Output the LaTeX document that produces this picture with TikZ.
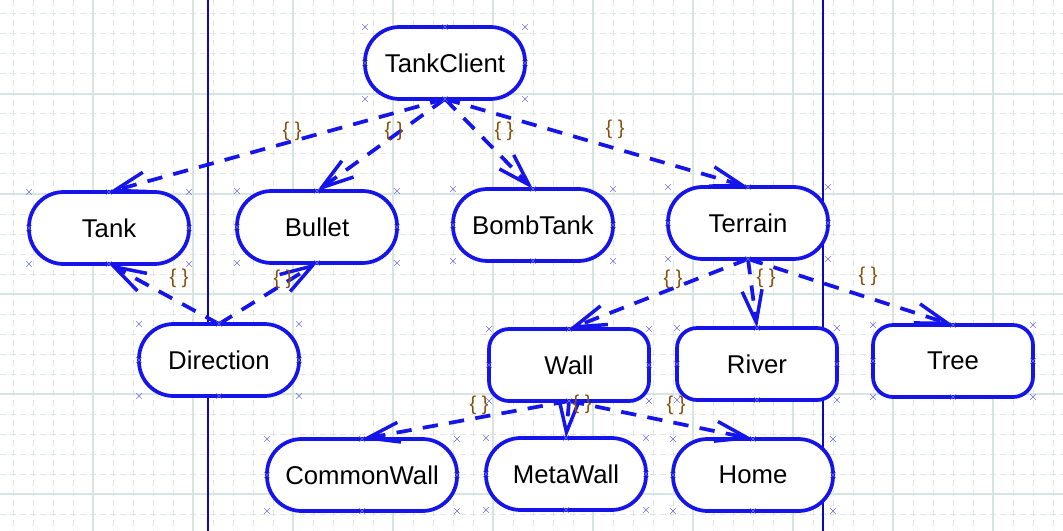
\documentclass[tikz,border=0pt]{standalone}
\usepackage{fontspec}
\setmainfont{Liberation Sans}
\usetikzlibrary{arrows.meta,shapes.misc}
\definecolor{umlblue}{RGB}{20,20,235}
\definecolor{gridminor}{RGB}{224,230,230}
\definecolor{gridmajor}{RGB}{214,228,228}
\definecolor{sepblue}{RGB}{10,10,185}
\definecolor{handlecol}{RGB}{110,110,225}
\definecolor{bracecol}{RGB}{135,80,10}
\begin{document}
\begin{tikzpicture}[x=0.75pt,y=-0.75pt,
  classbox/.style={draw=umlblue, line width=2.8pt, fill=white, rounded corners=26pt,
    minimum width=120pt, minimum height=54pt, inner sep=0pt, outer sep=0pt,
    font=\fontsize{19.3}{21}\selectfont},
  boxy/.style={rounded corners=15pt},
  dep/.style={draw=umlblue, line width=2.8pt, dash pattern=on 11.5pt off 8.5pt,
    -{Straight Barb[length=24pt,width=15pt,line width=2.6pt]}},
  brace/.style={font=\fontsize{15}{18}\selectfont, text=bracecol, inner sep=0pt},
  handle/.style={cross out, draw=handlecol, line width=0.5pt, minimum size=3.6pt, inner sep=0pt},
  minorgrid/.style={draw=gridminor, line width=0.75pt, dash pattern=on 4.5pt off 3pt},
  majorgrid/.style={draw=gridmajor, line width=0.8pt},
  sepline/.style={draw=sepblue, line width=1.1pt}
]
\useasboundingbox (0,0) rectangle (1063,531);
\fill[white] (0,0) rectangle (1063,531);
% grid
\foreach \x in {13,33,...,1053} \draw[minorgrid] (\x,0) -- (\x,531);
\foreach \y in {14,34,...,531} \draw[minorgrid] (0,\y) -- (1063,\y);
\foreach \x in {93,193,...,1000} \draw[majorgrid] (\x,0) -- (\x,531);
\foreach \y in {94,194,...,500} \draw[majorgrid] (0,\y) -- (1063,\y);
% separators
\coordinate (s1t) at (208,0); \coordinate (s1b) at (208,531);
\coordinate (s2t) at (823,0); \coordinate (s2b) at (823,531);
\draw[sepline] (s1t) -- (s1b);
\draw[sepline] (s2t) -- (s2b);
% nodes
\node[classbox] (tc) at (445,63) {TankClient};
\node[classbox] (tank) at (109,228) {Tank};
\node[classbox] (bullet) at (317,227) {Bullet};
\node[classbox] (bomb) at (533,225) {BombTank};
\node[classbox] (terrain) at (748,223) {Terrain};
\node[classbox] (dir) at (219,360) {Direction};
\node[classbox,boxy] (wall) at (569,365) {Wall};
\node[classbox,boxy] (river) at (757,364) {River};
\node[classbox,boxy] (tree) at (953,361) {Tree};
\node[classbox,minimum width=142.5pt] (cwall) at (362,475) {CommonWall};
\node[classbox] (mwall) at (566,474) {MetaWall};
\node[classbox] (home) at (753,475) {Home};
% dependencies
\draw[dep] (tc.south) -- (tank.north);
\draw[dep] (tc.south) -- (bullet.north);
\draw[dep] (tc.south) -- (bomb.north);
\draw[dep] (tc.south) -- (terrain.north);
\draw[dep] (dir.north) -- (tank.south);
\draw[dep] (dir.north) -- (bullet.south);
\draw[dep] (terrain.south) -- (wall.north);
\draw[dep] (terrain.south) -- (river.north);
\draw[dep] (terrain.south) -- (tree.north);
\draw[dep] (wall.south) -- (cwall.north);
\draw[dep] (wall.south) -- (mwall.north);
\draw[dep] (wall.south) -- (home.north);
% labels
\node[brace] (l1) at (292,131) {\{ \}};
\node[brace] (l2) at (394,131) {\{ \}};
\node[brace] (l3) at (504,131) {\{ \}};
\node[brace] (l4) at (615,129) {\{ \}};
\node[brace] (l5) at (179,278) {\{ \}};
\node[brace] (l6) at (283,279) {\{ \}};
\node[brace] (l7) at (673,279) {\{ \}};
\node[brace] (l8) at (766,278) {\{ \}};
\node[brace] (l9) at (868,276) {\{ \}};
\node[brace] (l10) at (479,405) {\{ \}};
\node[brace] (l11) at (582,404) {\{ \}};
\node[brace] (l12) at (676,405) {\{ \}};
% selection handles
\foreach \n in {tc,tank,bullet,bomb,terrain,dir,wall,river,tree,cwall,mwall,home}
  \foreach \a in {north west,north,north east,west,east,south west,south,south east}
    \node[handle] at (\n.\a) {};
\end{tikzpicture}
\end{document}
